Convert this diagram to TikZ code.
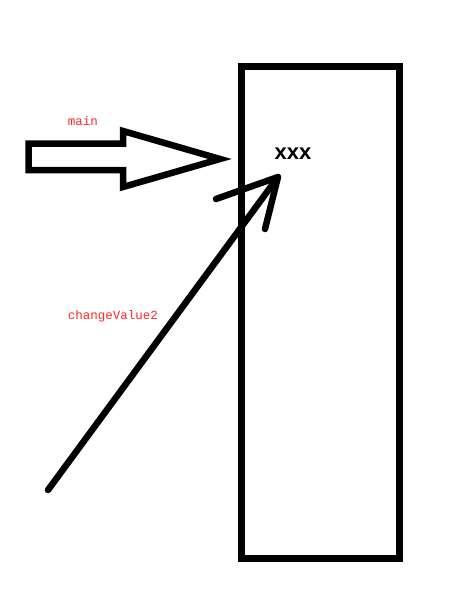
\documentclass[tikz,border=0pt]{standalone}
\usepackage{fontspec}
\newfontfamily\monofnt{Liberation Mono}
\newfontfamily\boldsans{Liberation Sans}
\begin{document}
\begin{tikzpicture}[x=1pt,y=-1pt,
  thick line/.style={line width=6.5pt,line join=round,line cap=round},
  redlabel/.style={text=red!85!white,font=\monofnt\fontsize{12.5}{14}\selectfont,inner sep=0pt},
  varlabel/.style={text=black,font=\boldsans\bfseries\fontsize{22}{24}\selectfont,inner sep=0pt}]
\useasboundingbox (0,0) rectangle (470,598);
% memory box
\draw[line width=7pt,line join=miter] (241.5,66) rectangle (399.5,558);
% block arrow
\draw[thick line,line join=miter] (28.5,143.5) -- (123,143.5) -- (123,131) -- (220,159) -- (123,187) -- (123,170) -- (28.5,170) -- cycle;
\node[redlabel] (main) at (83,121) {main};
% long arrow
\coordinate (tail) at (48,490);
\coordinate (tip) at (278,177);
\coordinate (barbL) at (216,199);
\coordinate (barbR) at (265,229);
\draw[thick line] (tail) -- (tip);
\draw[thick line] (barbL) -- (tip) -- (barbR);
\node[redlabel] (cv) at (113,316) {changeValue2};
\node[varlabel] (xxx) at (293,154) {xxx};
\end{tikzpicture}
\end{document}
